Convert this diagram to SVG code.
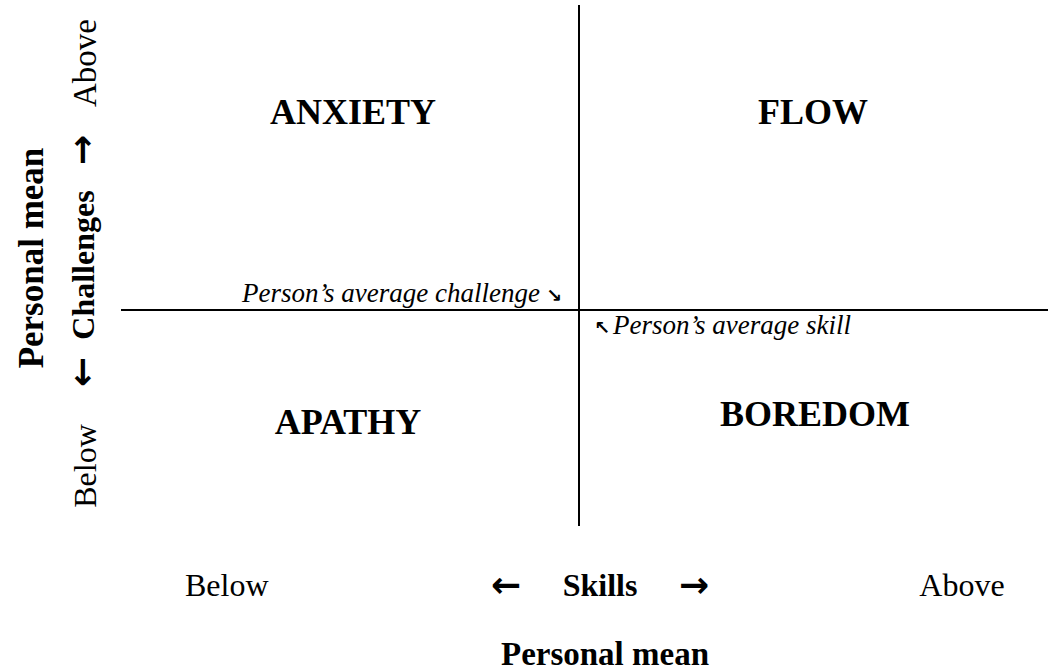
<svg xmlns="http://www.w3.org/2000/svg" width="1048" height="670" viewBox="0 0 1048 670">
<style>
.t{font-family:"Liberation Serif","Times New Roman",serif;fill:#000}
.b{font-weight:bold}
.q{font-size:36px;font-weight:bold;text-anchor:middle}
.ax{font-size:32px}
.it{font-size:27px;font-style:italic}
.ar{font-family:"DejaVu Sans",sans-serif;font-weight:bold;fill:#000;font-size:36px}
.sa{font-family:"DejaVu Sans",sans-serif;font-weight:bold;fill:#000;font-size:19px}
.ln{stroke:#000;stroke-width:2;fill:none}
</style>
<rect width="1048" height="670" fill="#fff"/>
<g id="connectors">
<line class="ln" x1="579" y1="5" x2="579" y2="526"/>
<line class="ln" x1="121" y1="310" x2="1048" y2="310"/>
</g>
<g id="anxiety"><text class="t q" x="353" y="124">ANXIETY</text></g>
<g id="flow"><text class="t q" x="813" y="124">FLOW</text></g>
<g id="apathy"><text class="t q" x="348" y="434">APATHY</text></g>
<g id="boredom"><text class="t q" x="815" y="426">BOREDOM</text></g>
<g id="avg-challenge">
<text class="t it" x="540" y="302" text-anchor="end">Person’s average challenge</text>
<text class="sa" x="546" y="302">↘</text>
</g>
<g id="avg-skill">
<text class="sa" x="594" y="334">↖</text>
<text class="t it" x="613" y="334">Person’s average skill</text>
</g>
<g id="y-axis">
<text class="t b" font-size="35" transform="translate(43,258) rotate(-90)" text-anchor="middle">Personal mean</text>
<text class="t b ax" transform="translate(94,265) rotate(-90)" text-anchor="middle">Challenges</text>
<text class="ar" transform="translate(94,150) rotate(-90)" text-anchor="middle">→</text>
<text class="ar" transform="translate(94,372) rotate(-90)" text-anchor="middle">←</text>
<text class="t" font-size="33" transform="translate(96,63) rotate(-90)" text-anchor="middle">Above</text>
<text class="t ax" transform="translate(96,466) rotate(-90)" text-anchor="middle">Below</text>
</g>
<g id="x-axis">
<text class="t ax" x="185" y="596">Below</text>
<text class="ar" x="506" y="597" text-anchor="middle">←</text>
<text class="t b ax" x="600" y="596" text-anchor="middle">Skills</text>
<text class="ar" x="694" y="597" text-anchor="middle">→</text>
<text class="t ax" x="962" y="596" text-anchor="middle">Above</text>
<text class="t b" font-size="33" x="605" y="665" text-anchor="middle">Personal mean</text>
</g>
</svg>
